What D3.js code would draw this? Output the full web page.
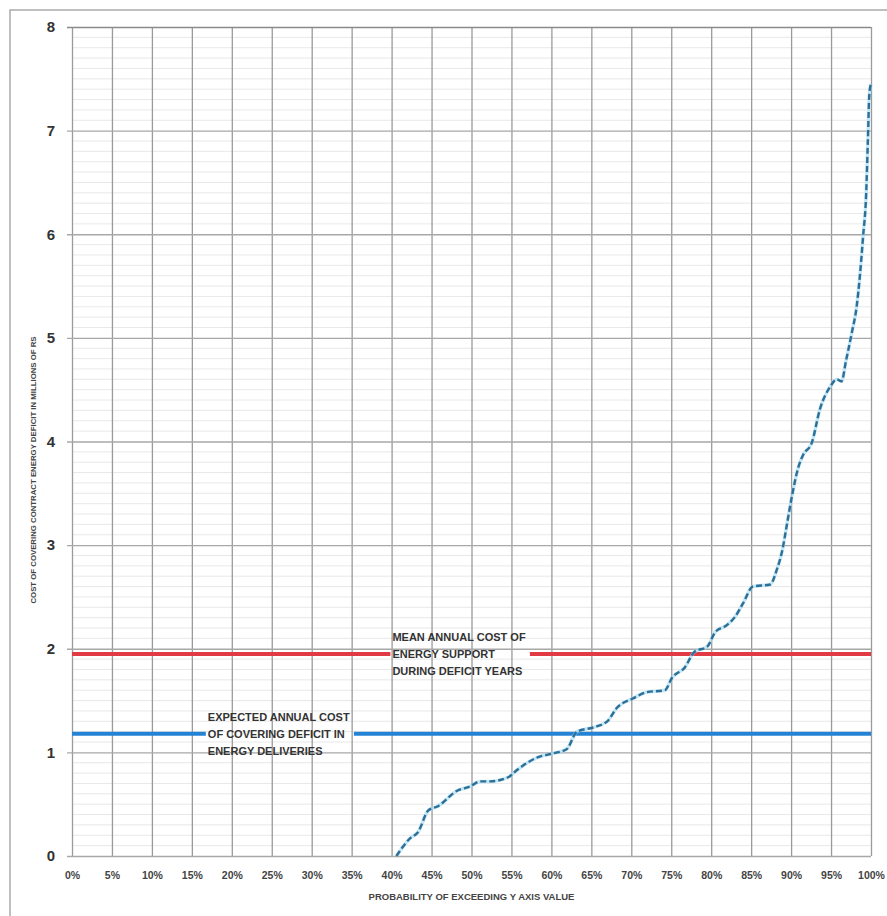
<!DOCTYPE html>
<html>
<head>
<meta charset="utf-8">
<script src="https://cdn.jsdelivr.net/npm/d3@7"></script>
<style>
  body { margin: 0; background: #fff; }
  svg { display: block; }
</style>
</head>
<body>
<div id="chart"></div>
<script>
const WIDTH = 887;
const HEIGHT = 916;

// probability of exceeding (fraction) and cost (millions of Rs)
const probability = [
  0.406, 0.423, 0.433, 0.446, 0.458, 0.482, 0.498, 0.511, 0.523, 0.546,
  0.557, 0.582, 0.602, 0.619, 0.632, 0.652, 0.670, 0.682, 0.702, 0.719,
  0.742, 0.751, 0.767, 0.779, 0.795, 0.805, 0.820, 0.830, 0.840, 0.852,
  0.874, 0.882, 0.889, 0.895, 0.901, 0.909, 0.915, 0.926, 0.936, 0.949,
  0.957, 0.963, 0.969, 0.976, 0.982, 0.986, 0.990, 0.994, 0.996, 0.998,
  1.000
];
const cost = [
  0.00, 0.17, 0.23, 0.44, 0.48, 0.63, 0.67, 0.72, 0.72, 0.76,
  0.83, 0.95, 0.99, 1.03, 1.20, 1.24, 1.30, 1.43, 1.52, 1.58,
  1.60, 1.72, 1.82, 1.97, 2.02, 2.16, 2.23, 2.31, 2.44, 2.60,
  2.62, 2.76, 2.95, 3.21, 3.47, 3.75, 3.87, 3.99, 4.31, 4.53,
  4.60, 4.58, 4.79, 5.05, 5.30, 5.59, 5.97, 6.40, 6.88, 7.36,
  7.45
];

const xTicks = d3.range(0, 21).map(i => i * 0.05);
const yTicks = [0, 1, 2, 3, 4, 5, 6, 7, 8];

const meanCost = 1.95;
const meanLabel = ['MEAN ANNUAL COST OF', 'ENERGY SUPPORT', 'DURING DEFICIT YEARS'];
const expectedCost = 1.18;
const expectedLabel = ['EXPECTED ANNUAL COST', 'OF COVERING DEFICIT IN', 'ENERGY DELIVERIES'];

const yTitle = 'COST OF COVERING CONTRACT ENERGY DEFICIT IN MILLIONS OF RS';
const xTitle = 'PROBABILITY OF EXCEEDING Y AXIS VALUE';

const NARROW = '"Liberation Sans Narrow", "Arial Narrow", "Liberation Sans", sans-serif';

const svg = d3.select('#chart').append('svg')
  .attr('width', WIDTH)
  .attr('height', HEIGHT);

// scanned page frame (only top and left edges fall inside the page)
svg.append('rect')
  .attr('x', 10).attr('y', 10)
  .attr('width', 920).attr('height', 950)
  .attr('fill', 'none')
  .attr('stroke', '#aaa')
  .attr('stroke-width', 1.5);

const x = d3.scaleLinear().domain([0, 1]).range([72, 871]);
const y = d3.scaleLinear().domain([0, 8]).range([856, 27]);

// Minor horizontal grid
svg.append('g')
  .selectAll('line')
  .data(d3.range(0, 80).map(i => i / 10).filter(v => v % 1 !== 0))
  .join('line')
  .attr('x1', x(0)).attr('x2', x(1))
  .attr('y1', d => y(d)).attr('y2', d => y(d))
  .attr('stroke', '#e2e2e2')
  .attr('stroke-width', 0.8);

// Vertical grid / x axis
const xAxis = svg.append('g')
  .attr('transform', `translate(0, ${y(0)})`)
  .call(d3.axisBottom(x).tickValues(xTicks).tickFormat(d3.format('.0%'))
    .tickSize(-(y(0) - y(8))).tickPadding(16));
xAxis.select('.domain').remove();
xAxis.selectAll('.tick line')
  .attr('stroke', '#9a9a9a')
  .attr('stroke-width', 1.3);
xAxis.selectAll('.tick text')
  .attr('font-family', NARROW)
  .attr('font-weight', 'bold')
  .attr('font-size', 10.5)
  .attr('fill', '#444');

// Horizontal major grid / y axis
const yAxis = svg.append('g')
  .attr('transform', `translate(${x(0)}, 0)`)
  .call(d3.axisLeft(y).tickValues(yTicks).tickFormat(d3.format('d'))
    .tickSizeInner(-(x(1) - x(0))).tickSizeOuter(0).tickPadding(14));
yAxis.select('.domain').remove();
yAxis.selectAll('.tick line')
  .attr('x1', -5)
  .attr('stroke', d => d === 8 ? '#8a8a8a' : '#a8a8a8')
  .attr('stroke-width', d => d === 8 ? 1.6 : 1.3);
yAxis.selectAll('.tick text')
  .attr('x', -21)
  .attr('text-anchor', 'middle')
  .attr('font-family', '"Liberation Sans", Arial, sans-serif')
  .attr('font-weight', 'bold')
  .attr('font-size', 15)
  .attr('fill', '#333');

// Reference lines with inline labels
function refLine(value, lines, labelX, colour) {
  const g = svg.append('g');
  const text = g.append('text')
    .attr('font-family', NARROW)
    .attr('font-weight', 'bold')
    .attr('font-size', 11)
    .attr('fill', '#333');
  lines.forEach((s, i) => {
    text.append('tspan')
      .attr('x', x(labelX))
      .attr('y', y(value) + (i - 1) * 17 + 4)
      .text(s);
  });
  const box = text.node().getBBox();
  const segs = [[x(0), box.x - 2], [box.x + box.width + 4, x(1)]];
  g.selectAll('line')
    .data(segs)
    .join('line')
    .attr('x1', d => d[0]).attr('x2', d => d[1])
    .attr('y1', y(value)).attr('y2', y(value))
    .attr('stroke', colour)
    .attr('stroke-width', 4);
}

refLine(meanCost, meanLabel, 0.401, '#e23a44');
refLine(expectedCost, expectedLabel, 0.170, '#2583d6');

// Exceedance curve
const curveData = probability.map((p, i) => ({p, v: cost[i]}));
const line = d3.line()
  .x(d => x(d.p))
  .y(d => y(d.v))
  .curve(d3.curveMonotoneX);

svg.append('path')
  .datum(curveData)
  .attr('fill', 'none')
  .attr('stroke', '#9fd8f2')
  .attr('stroke-width', 3.5)
  .attr('opacity', 0.6)
  .attr('d', line);

svg.append('path')
  .datum(curveData)
  .attr('fill', 'none')
  .attr('stroke', '#2e6f97')
  .attr('stroke-width', 2.4)
  .attr('stroke-dasharray', '6, 3')
  .attr('d', line);

// Axis titles
svg.append('text')
  .attr('x', x(0.5))
  .attr('y', 900)
  .attr('text-anchor', 'middle')
  .attr('font-family', NARROW)
  .attr('font-weight', 'bold')
  .attr('font-size', 9.5)
  .attr('fill', '#444')
  .text(xTitle);

svg.append('text')
  .attr('transform', `translate(36, 470) rotate(-90)`)
  .attr('text-anchor', 'middle')
  .attr('font-family', NARROW)
  .attr('font-weight', 'bold')
  .attr('font-size', 7.8)
  .attr('fill', '#444')
  .text(yTitle);
</script>
</body>
</html>
